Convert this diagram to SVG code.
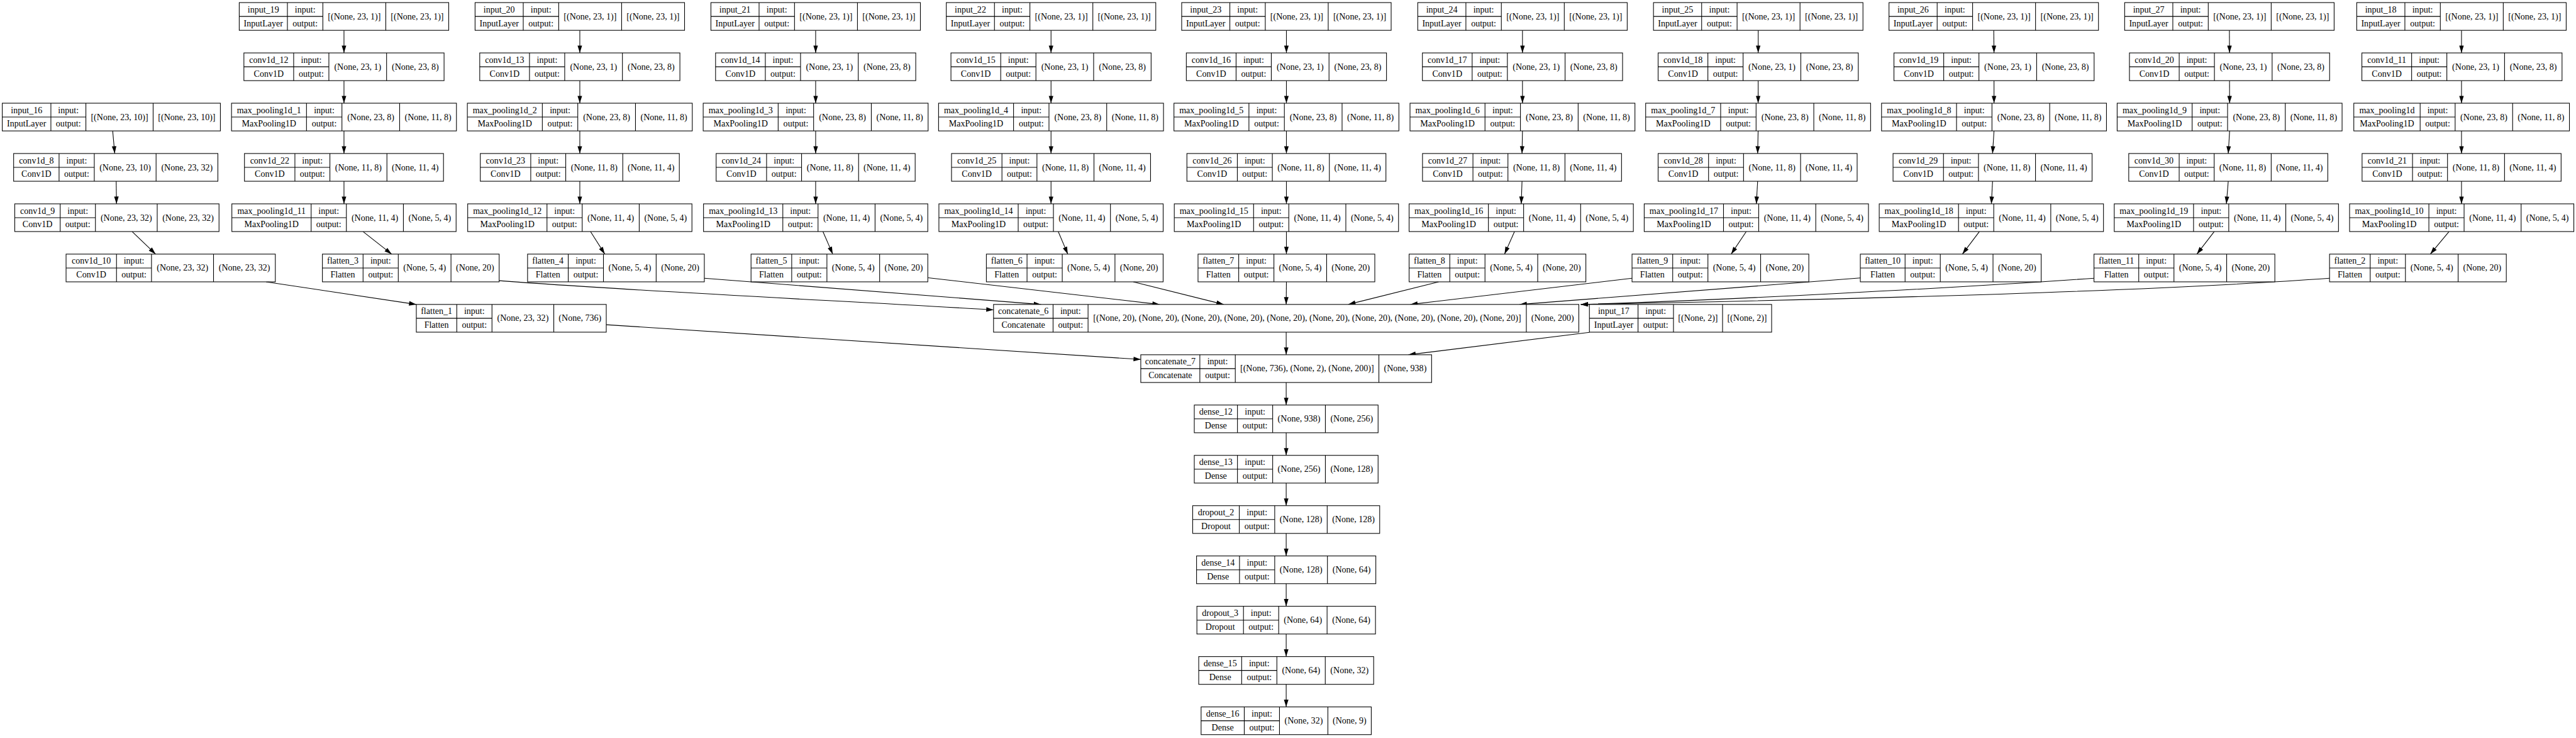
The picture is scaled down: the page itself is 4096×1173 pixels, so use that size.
<svg xmlns="http://www.w3.org/2000/svg" width="4096" height="1173" viewBox="0 0 4096 1173">
<style>
.fr rect{fill:#fff;stroke:#000;stroke-width:1.5}
.fr path{fill:none;stroke:#000;stroke-width:1.5}
text{font-family:"Liberation Serif","Times New Roman",serif;font-size:19.44px;text-anchor:middle;fill:#000}
#edges path{fill:none;stroke:#000;stroke-width:1.5;marker-end:url(#ah)}
</style>
<defs>
<marker id="ah" markerUnits="userSpaceOnUse" markerWidth="17" markerHeight="11" refX="16" refY="5" orient="auto" overflow="visible"><path d="M0,0 L16,5 L0,10 z" fill="#000"/></marker>
<g id="fIN23" class="fr"><rect width="461" height="61"/><path d="M106,0V61M184,0V61M322.5,0V61M0,30.5H184"/></g>
<g id="fIN16" class="fr"><rect width="480" height="61"/><path d="M107,0V61M184,0V61M332,0V61M0,30.5H184"/></g>
<g id="fC1" class="fr"><rect width="440.5" height="61"/><path d="M109.5,0V61M187,0V61M314,0V61M0,30.5H187"/></g>
<g id="fMP1" class="fr"><rect width="495" height="61"/><path d="M165,0V61M243,0V61M370,0V61M0,30.5H243"/></g>
<g id="fMP0" class="fr"><rect width="474.5" height="61"/><path d="M146,0V61M223,0V61M349.5,0V61M0,30.5H223"/></g>
<g id="fC2" class="fr"><rect width="438" height="61"/><path d="M111,0V61M188,0V61M313.5,0V61M0,30.5H188"/></g>
<g id="fMP2" class="fr"><rect width="493.5" height="61"/><path d="M174.5,0V61M252,0V61M377.5,0V61M0,30.5H252"/></g>
<g id="fFL" class="fr"><rect width="389" height="61"/><path d="M89.5,0V61M167,0V61M283,0V61M0,30.5H167"/></g>
<g id="fFL2" class="fr"><rect width="398" height="61"/><path d="M98.5,0V61M176,0V61M292,0V61M0,30.5H176"/></g>
<g id="fC8" class="fr"><rect width="449.5" height="61"/><path d="M100,0V61M177.5,0V61M313.5,0V61M0,30.5H177.5"/></g>
<g id="fC10" class="fr"><rect width="460.5" height="61"/><path d="M111,0V61M188,0V61M324.5,0V61M0,30.5H188"/></g>
<g id="fF1" class="fr"><rect width="418" height="61"/><path d="M89,0V61M166.5,0V61M302.5,0V61M0,30.5H166.5"/></g>
<g id="fCAT6" class="fr"><rect width="1288" height="61"/><path d="M131,0V61M208,0V61M1172.5,0V61M0,30.5H208"/></g>
<g id="fIN17" class="fr"><rect width="401" height="61"/><path d="M107,0V61M185,0V61M293,0V61M0,30.5H185"/></g>
<g id="fCAT7" class="fr"><rect width="640" height="61"/><path d="M130,0V61M208,0V61M524,0V61M0,30.5H208"/></g>
<g id="fD12" class="fr"><rect width="404.5" height="61"/><path d="M95,0V61M172.5,0V61M288.5,0V61M0,30.5H172.5"/></g>
<g id="fDO2" class="fr"><rect width="411.5" height="61"/><path d="M102.5,0V61M180.5,0V61M296,0V61M0,30.5H180.5"/></g>
<g id="fD14" class="fr"><rect width="394.5" height="61"/><path d="M94.5,0V61M172,0V61M288,0V61M0,30.5H172"/></g>
<g id="fDO3" class="fr"><rect width="393" height="61"/><path d="M102.5,0V61M180,0V61M286.5,0V61M0,30.5H180"/></g>
<g id="fD15" class="fr"><rect width="385" height="61"/><path d="M94.5,0V61M172,0V61M278.5,0V61M0,30.5H172"/></g>
<g id="fD16" class="fr"><rect width="374.5" height="61"/><path d="M95,0V61M172.5,0V61M279,0V61M0,30.5H172.5"/></g>
</defs>
<rect width="4096" height="1173" fill="#fff"/>
<g transform="scale(0.72253)">
<g id="edges">
<path d="M757,66.7 L757,116.4"/><path d="M757,177.4 L757,227"/><path d="M757,288 L757,337.7"/><path d="M757,398.7 L757,448.4"/>
<path d="M1276,66.7 L1276,116.4"/><path d="M1276,177.4 L1276,227"/><path d="M1276,288 L1276,337.7"/><path d="M1276,398.7 L1276,448.4"/>
<path d="M1795,66.7 L1795,116.4"/><path d="M1795,177.4 L1795,227"/><path d="M1795,288 L1795,337.7"/><path d="M1795,398.7 L1795,448.4"/>
<path d="M2313,66.7 L2313,116.4"/><path d="M2313,177.4 L2313,227"/><path d="M2313,288 L2313,337.7"/><path d="M2313,398.7 L2313,448.4"/>
<path d="M2831,66.7 L2831,116.4"/><path d="M2831,177.4 L2831,227"/><path d="M2831,288 L2831,337.7"/><path d="M2831,398.7 L2831,448.4"/>
<path d="M3350.5,66.7 L3350.5,116.4"/><path d="M3350.5,177.4 L3350.5,227"/><path d="M3350.5,288 L3349.5,337.7"/><path d="M3349.5,398.7 L3347.8,448.4"/>
<path d="M3869.3,66.7 L3869.2,116.4"/><path d="M3869.2,177.4 L3869.1,227"/><path d="M3869.1,288 L3868,337.7"/><path d="M3868,398.7 L3865.2,448.4"/>
<path d="M4387.6,66.7 L4388.2,116.4"/><path d="M4388.2,177.4 L4388.2,227"/><path d="M4388.2,288 L4385,337.7"/><path d="M4385,398.7 L4382.4,448.4"/>
<path d="M4906.2,66.7 L4906.5,116.4"/><path d="M4906.5,177.4 L4906.7,227"/><path d="M4906.7,288 L4903.7,337.7"/><path d="M4903.7,398.7 L4899.6,448.4"/>
<path d="M5417,66.7 L5417,116.4"/><path d="M5417,177.4 L5417,227"/><path d="M5417,288 L5417,337.7"/><path d="M5417,398.7 L5417,448.4"/>
<path d="M799,509.4 L862,559"/>
<path d="M1299.5,509.4 L1331,559"/>
<path d="M1811,509.4 L1832.6,559"/>
<path d="M2328.8,509.4 L2349.9,559"/>
<path d="M2831,509.4 L2831,559"/>
<path d="M3333,509.4 L3311,559"/>
<path d="M3843,509.4 L3809.7,559"/>
<path d="M4356,509.4 L4318.6,559"/>
<path d="M4872.8,509.4 L4834.6,559"/>
<path d="M5389.5,509.4 L5348.3,559"/>
<path d="M248,288 L252.5,337.7"/>
<path d="M255.7,398.7 L256.4,448.4"/>
<path d="M290.8,509.4 L342.5,559"/>
<path d="M585.5,620 L916.2,669.7"/>
<path d="M1098.6,617.5 C1400,641 1900,664 2186.5,681.7"/>
<path d="M1550,612 L2291,669.7"/>
<path d="M2042.5,611 L2552,669.7"/>
<path d="M2494,620 L2693,669.7"/>
<path d="M2831,620 L2830.5,669.7"/>
<path d="M3166,620 L2967,669.7"/>
<path d="M3591.6,612 L3103.6,669.7"/>
<path d="M4094,611.5 L3344,669.7"/>
<path d="M4608.2,612 C4300,633.6 3800,660 3478.8,669.7"/>
<path d="M5126.6,612.2 C4700,643 4000,660 3478.8,669.7"/>
<path d="M2830.5,730.7 L2830.5,780.4"/>
<path d="M3497.8,731 L3099.4,780.4"/>
<path d="M1334.1,714.3 L2510.5,790.7"/>
<path d="M2830.5,841.4 L2830.5,891"/>
<path d="M2830.5,952 L2830.5,1001.7"/>
<path d="M2830.5,1062.7 L2830.5,1112.4"/>
<path d="M2830.5,1173.4 L2830.5,1223"/>
<path d="M2830.5,1284 L2830.5,1333.7"/>
<path d="M2830.5,1394.7 L2830.5,1444.4"/>
<path d="M2830.5,1505.4 L2830.5,1555.1"/>
</g>

<g id="input_19" transform="translate(526.5,5.7)"><use href="#fIN23"/><text x="53" y="21.5">input_19</text><text x="53" y="51.8">InputLayer</text><text x="145" y="21.5">input:</text><text x="145" y="51.8">output:</text><text x="253.25" y="36.8">[(None, 23, 1)]</text><text x="391.75" y="36.8">[(None, 23, 1)]</text></g>
<g id="input_20" transform="translate(1045.5,5.7)"><use href="#fIN23"/><text x="53" y="21.5">input_20</text><text x="53" y="51.8">InputLayer</text><text x="145" y="21.5">input:</text><text x="145" y="51.8">output:</text><text x="253.25" y="36.8">[(None, 23, 1)]</text><text x="391.75" y="36.8">[(None, 23, 1)]</text></g>
<g id="input_21" transform="translate(1564.5,5.7)"><use href="#fIN23"/><text x="53" y="21.5">input_21</text><text x="53" y="51.8">InputLayer</text><text x="145" y="21.5">input:</text><text x="145" y="51.8">output:</text><text x="253.25" y="36.8">[(None, 23, 1)]</text><text x="391.75" y="36.8">[(None, 23, 1)]</text></g>
<g id="input_22" transform="translate(2082.5,5.7)"><use href="#fIN23"/><text x="53" y="21.5">input_22</text><text x="53" y="51.8">InputLayer</text><text x="145" y="21.5">input:</text><text x="145" y="51.8">output:</text><text x="253.25" y="36.8">[(None, 23, 1)]</text><text x="391.75" y="36.8">[(None, 23, 1)]</text></g>
<g id="input_23" transform="translate(2600.5,5.7)"><use href="#fIN23"/><text x="53" y="21.5">input_23</text><text x="53" y="51.8">InputLayer</text><text x="145" y="21.5">input:</text><text x="145" y="51.8">output:</text><text x="253.25" y="36.8">[(None, 23, 1)]</text><text x="391.75" y="36.8">[(None, 23, 1)]</text></g>
<g id="input_24" transform="translate(3120,5.7)"><use href="#fIN23"/><text x="53" y="21.5">input_24</text><text x="53" y="51.8">InputLayer</text><text x="145" y="21.5">input:</text><text x="145" y="51.8">output:</text><text x="253.25" y="36.8">[(None, 23, 1)]</text><text x="391.75" y="36.8">[(None, 23, 1)]</text></g>
<g id="input_25" transform="translate(3638.8,5.7)"><use href="#fIN23"/><text x="53" y="21.5">input_25</text><text x="53" y="51.8">InputLayer</text><text x="145" y="21.5">input:</text><text x="145" y="51.8">output:</text><text x="253.25" y="36.8">[(None, 23, 1)]</text><text x="391.75" y="36.8">[(None, 23, 1)]</text></g>
<g id="input_26" transform="translate(4157.1,5.7)"><use href="#fIN23"/><text x="53" y="21.5">input_26</text><text x="53" y="51.8">InputLayer</text><text x="145" y="21.5">input:</text><text x="145" y="51.8">output:</text><text x="253.25" y="36.8">[(None, 23, 1)]</text><text x="391.75" y="36.8">[(None, 23, 1)]</text></g>
<g id="input_27" transform="translate(4675.7,5.7)"><use href="#fIN23"/><text x="53" y="21.5">input_27</text><text x="53" y="51.8">InputLayer</text><text x="145" y="21.5">input:</text><text x="145" y="51.8">output:</text><text x="253.25" y="36.8">[(None, 23, 1)]</text><text x="391.75" y="36.8">[(None, 23, 1)]</text></g>
<g id="input_18" transform="translate(5186.4,5.7)"><use href="#fIN23"/><text x="53" y="21.5">input_18</text><text x="53" y="51.8">InputLayer</text><text x="145" y="21.5">input:</text><text x="145" y="51.8">output:</text><text x="253.25" y="36.8">[(None, 23, 1)]</text><text x="391.75" y="36.8">[(None, 23, 1)]</text></g>

<g id="conv1d_12" transform="translate(536.75,116.4)"><use href="#fC1"/><text x="54.75" y="21.5">conv1d_12</text><text x="54.75" y="51.8">Conv1D</text><text x="148.25" y="21.5">input:</text><text x="148.25" y="51.8">output:</text><text x="250.5" y="36.8">(None, 23, 1)</text><text x="377.25" y="36.8">(None, 23, 8)</text></g>
<g id="conv1d_13" transform="translate(1055.75,116.4)"><use href="#fC1"/><text x="54.75" y="21.5">conv1d_13</text><text x="54.75" y="51.8">Conv1D</text><text x="148.25" y="21.5">input:</text><text x="148.25" y="51.8">output:</text><text x="250.5" y="36.8">(None, 23, 1)</text><text x="377.25" y="36.8">(None, 23, 8)</text></g>
<g id="conv1d_14" transform="translate(1574.75,116.4)"><use href="#fC1"/><text x="54.75" y="21.5">conv1d_14</text><text x="54.75" y="51.8">Conv1D</text><text x="148.25" y="21.5">input:</text><text x="148.25" y="51.8">output:</text><text x="250.5" y="36.8">(None, 23, 1)</text><text x="377.25" y="36.8">(None, 23, 8)</text></g>
<g id="conv1d_15" transform="translate(2092.75,116.4)"><use href="#fC1"/><text x="54.75" y="21.5">conv1d_15</text><text x="54.75" y="51.8">Conv1D</text><text x="148.25" y="21.5">input:</text><text x="148.25" y="51.8">output:</text><text x="250.5" y="36.8">(None, 23, 1)</text><text x="377.25" y="36.8">(None, 23, 8)</text></g>
<g id="conv1d_16" transform="translate(2610.75,116.4)"><use href="#fC1"/><text x="54.75" y="21.5">conv1d_16</text><text x="54.75" y="51.8">Conv1D</text><text x="148.25" y="21.5">input:</text><text x="148.25" y="51.8">output:</text><text x="250.5" y="36.8">(None, 23, 1)</text><text x="377.25" y="36.8">(None, 23, 8)</text></g>
<g id="conv1d_17" transform="translate(3130.25,116.4)"><use href="#fC1"/><text x="54.75" y="21.5">conv1d_17</text><text x="54.75" y="51.8">Conv1D</text><text x="148.25" y="21.5">input:</text><text x="148.25" y="51.8">output:</text><text x="250.5" y="36.8">(None, 23, 1)</text><text x="377.25" y="36.8">(None, 23, 8)</text></g>
<g id="conv1d_18" transform="translate(3649,116.4)"><use href="#fC1"/><text x="54.75" y="21.5">conv1d_18</text><text x="54.75" y="51.8">Conv1D</text><text x="148.25" y="21.5">input:</text><text x="148.25" y="51.8">output:</text><text x="250.5" y="36.8">(None, 23, 1)</text><text x="377.25" y="36.8">(None, 23, 8)</text></g>
<g id="conv1d_19" transform="translate(4168,116.4)"><use href="#fC1"/><text x="54.75" y="21.5">conv1d_19</text><text x="54.75" y="51.8">Conv1D</text><text x="148.25" y="21.5">input:</text><text x="148.25" y="51.8">output:</text><text x="250.5" y="36.8">(None, 23, 1)</text><text x="377.25" y="36.8">(None, 23, 8)</text></g>
<g id="conv1d_20" transform="translate(4686.25,116.4)"><use href="#fC1"/><text x="54.75" y="21.5">conv1d_20</text><text x="54.75" y="51.8">Conv1D</text><text x="148.25" y="21.5">input:</text><text x="148.25" y="51.8">output:</text><text x="250.5" y="36.8">(None, 23, 1)</text><text x="377.25" y="36.8">(None, 23, 8)</text></g>
<g id="conv1d_11" transform="translate(5197.75,116.4)"><use href="#fC1"/><text x="54.75" y="21.5">conv1d_11</text><text x="54.75" y="51.8">Conv1D</text><text x="148.25" y="21.5">input:</text><text x="148.25" y="51.8">output:</text><text x="250.5" y="36.8">(None, 23, 1)</text><text x="377.25" y="36.8">(None, 23, 8)</text></g>

<g id="input_16" transform="translate(5,227)"><use href="#fIN16"/><text x="53.5" y="21.5">input_16</text><text x="53.5" y="51.8">InputLayer</text><text x="145.5" y="21.5">input:</text><text x="145.5" y="51.8">output:</text><text x="258" y="36.8">[(None, 23, 10)]</text><text x="406" y="36.8">[(None, 23, 10)]</text></g>
<g id="max_pooling1d_1" transform="translate(509.5,227)"><use href="#fMP1"/><text x="82.5" y="21.5">max_pooling1d_1</text><text x="82.5" y="51.8">MaxPooling1D</text><text x="204" y="21.5">input:</text><text x="204" y="51.8">output:</text><text x="306.5" y="36.8">(None, 23, 8)</text><text x="432.5" y="36.8">(None, 11, 8)</text></g>
<g id="max_pooling1d_2" transform="translate(1028.5,227)"><use href="#fMP1"/><text x="82.5" y="21.5">max_pooling1d_2</text><text x="82.5" y="51.8">MaxPooling1D</text><text x="204" y="21.5">input:</text><text x="204" y="51.8">output:</text><text x="306.5" y="36.8">(None, 23, 8)</text><text x="432.5" y="36.8">(None, 11, 8)</text></g>
<g id="max_pooling1d_3" transform="translate(1547.5,227)"><use href="#fMP1"/><text x="82.5" y="21.5">max_pooling1d_3</text><text x="82.5" y="51.8">MaxPooling1D</text><text x="204" y="21.5">input:</text><text x="204" y="51.8">output:</text><text x="306.5" y="36.8">(None, 23, 8)</text><text x="432.5" y="36.8">(None, 11, 8)</text></g>
<g id="max_pooling1d_4" transform="translate(2065.5,227)"><use href="#fMP1"/><text x="82.5" y="21.5">max_pooling1d_4</text><text x="82.5" y="51.8">MaxPooling1D</text><text x="204" y="21.5">input:</text><text x="204" y="51.8">output:</text><text x="306.5" y="36.8">(None, 23, 8)</text><text x="432.5" y="36.8">(None, 11, 8)</text></g>
<g id="max_pooling1d_5" transform="translate(2583.5,227)"><use href="#fMP1"/><text x="82.5" y="21.5">max_pooling1d_5</text><text x="82.5" y="51.8">MaxPooling1D</text><text x="204" y="21.5">input:</text><text x="204" y="51.8">output:</text><text x="306.5" y="36.8">(None, 23, 8)</text><text x="432.5" y="36.8">(None, 11, 8)</text></g>
<g id="max_pooling1d_6" transform="translate(3103,227)"><use href="#fMP1"/><text x="82.5" y="21.5">max_pooling1d_6</text><text x="82.5" y="51.8">MaxPooling1D</text><text x="204" y="21.5">input:</text><text x="204" y="51.8">output:</text><text x="306.5" y="36.8">(None, 23, 8)</text><text x="432.5" y="36.8">(None, 11, 8)</text></g>
<g id="max_pooling1d_7" transform="translate(3621.6,227)"><use href="#fMP1"/><text x="82.5" y="21.5">max_pooling1d_7</text><text x="82.5" y="51.8">MaxPooling1D</text><text x="204" y="21.5">input:</text><text x="204" y="51.8">output:</text><text x="306.5" y="36.8">(None, 23, 8)</text><text x="432.5" y="36.8">(None, 11, 8)</text></g>
<g id="max_pooling1d_8" transform="translate(4140.7,227)"><use href="#fMP1"/><text x="82.5" y="21.5">max_pooling1d_8</text><text x="82.5" y="51.8">MaxPooling1D</text><text x="204" y="21.5">input:</text><text x="204" y="51.8">output:</text><text x="306.5" y="36.8">(None, 23, 8)</text><text x="432.5" y="36.8">(None, 11, 8)</text></g>
<g id="max_pooling1d_9" transform="translate(4659.2,227)"><use href="#fMP1"/><text x="82.5" y="21.5">max_pooling1d_9</text><text x="82.5" y="51.8">MaxPooling1D</text><text x="204" y="21.5">input:</text><text x="204" y="51.8">output:</text><text x="306.5" y="36.8">(None, 23, 8)</text><text x="432.5" y="36.8">(None, 11, 8)</text></g>
<g id="max_pooling1d" transform="translate(5180,227)"><use href="#fMP0"/><text x="73" y="21.5">max_pooling1d</text><text x="73" y="51.8">MaxPooling1D</text><text x="184.5" y="21.5">input:</text><text x="184.5" y="51.8">output:</text><text x="286.25" y="36.8">(None, 23, 8)</text><text x="412" y="36.8">(None, 11, 8)</text></g>

<g id="conv1d_8" transform="translate(30,337.7)"><use href="#fC8"/><text x="50" y="21.5">conv1d_8</text><text x="50" y="51.8">Conv1D</text><text x="138.75" y="21.5">input:</text><text x="138.75" y="51.8">output:</text><text x="245.5" y="36.8">(None, 23, 10)</text><text x="381.5" y="36.8">(None, 23, 32)</text></g>
<g id="conv1d_22" transform="translate(538,337.7)"><use href="#fC2"/><text x="55.5" y="21.5">conv1d_22</text><text x="55.5" y="51.8">Conv1D</text><text x="149.5" y="21.5">input:</text><text x="149.5" y="51.8">output:</text><text x="250.75" y="36.8">(None, 11, 8)</text><text x="375.75" y="36.8">(None, 11, 4)</text></g>
<g id="conv1d_23" transform="translate(1057,337.7)"><use href="#fC2"/><text x="55.5" y="21.5">conv1d_23</text><text x="55.5" y="51.8">Conv1D</text><text x="149.5" y="21.5">input:</text><text x="149.5" y="51.8">output:</text><text x="250.75" y="36.8">(None, 11, 8)</text><text x="375.75" y="36.8">(None, 11, 4)</text></g>
<g id="conv1d_24" transform="translate(1576,337.7)"><use href="#fC2"/><text x="55.5" y="21.5">conv1d_24</text><text x="55.5" y="51.8">Conv1D</text><text x="149.5" y="21.5">input:</text><text x="149.5" y="51.8">output:</text><text x="250.75" y="36.8">(None, 11, 8)</text><text x="375.75" y="36.8">(None, 11, 4)</text></g>
<g id="conv1d_25" transform="translate(2094,337.7)"><use href="#fC2"/><text x="55.5" y="21.5">conv1d_25</text><text x="55.5" y="51.8">Conv1D</text><text x="149.5" y="21.5">input:</text><text x="149.5" y="51.8">output:</text><text x="250.75" y="36.8">(None, 11, 8)</text><text x="375.75" y="36.8">(None, 11, 4)</text></g>
<g id="conv1d_26" transform="translate(2612,337.7)"><use href="#fC2"/><text x="55.5" y="21.5">conv1d_26</text><text x="55.5" y="51.8">Conv1D</text><text x="149.5" y="21.5">input:</text><text x="149.5" y="51.8">output:</text><text x="250.75" y="36.8">(None, 11, 8)</text><text x="375.75" y="36.8">(None, 11, 4)</text></g>
<g id="conv1d_27" transform="translate(3130.5,337.7)"><use href="#fC2"/><text x="55.5" y="21.5">conv1d_27</text><text x="55.5" y="51.8">Conv1D</text><text x="149.5" y="21.5">input:</text><text x="149.5" y="51.8">output:</text><text x="250.75" y="36.8">(None, 11, 8)</text><text x="375.75" y="36.8">(None, 11, 4)</text></g>
<g id="conv1d_28" transform="translate(3649,337.7)"><use href="#fC2"/><text x="55.5" y="21.5">conv1d_28</text><text x="55.5" y="51.8">Conv1D</text><text x="149.5" y="21.5">input:</text><text x="149.5" y="51.8">output:</text><text x="250.75" y="36.8">(None, 11, 8)</text><text x="375.75" y="36.8">(None, 11, 4)</text></g>
<g id="conv1d_29" transform="translate(4166,337.7)"><use href="#fC2"/><text x="55.5" y="21.5">conv1d_29</text><text x="55.5" y="51.8">Conv1D</text><text x="149.5" y="21.5">input:</text><text x="149.5" y="51.8">output:</text><text x="250.75" y="36.8">(None, 11, 8)</text><text x="375.75" y="36.8">(None, 11, 4)</text></g>
<g id="conv1d_30" transform="translate(4684.7,337.7)"><use href="#fC2"/><text x="55.5" y="21.5">conv1d_30</text><text x="55.5" y="51.8">Conv1D</text><text x="149.5" y="21.5">input:</text><text x="149.5" y="51.8">output:</text><text x="250.75" y="36.8">(None, 11, 8)</text><text x="375.75" y="36.8">(None, 11, 4)</text></g>
<g id="conv1d_21" transform="translate(5198.2,337.7)"><use href="#fC2"/><text x="55.5" y="21.5">conv1d_21</text><text x="55.5" y="51.8">Conv1D</text><text x="149.5" y="21.5">input:</text><text x="149.5" y="51.8">output:</text><text x="250.75" y="36.8">(None, 11, 8)</text><text x="375.75" y="36.8">(None, 11, 4)</text></g>

<g id="conv1d_9" transform="translate(32.5,448.4)"><use href="#fC8"/><text x="50" y="21.5">conv1d_9</text><text x="50" y="51.8">Conv1D</text><text x="138.75" y="21.5">input:</text><text x="138.75" y="51.8">output:</text><text x="245.5" y="36.8">(None, 23, 32)</text><text x="381.5" y="36.8">(None, 23, 32)</text></g>
<g id="max_pooling1d_11" transform="translate(510.25,448.4)"><use href="#fMP2"/><text x="87.25" y="21.5">max_pooling1d_11</text><text x="87.25" y="51.8">MaxPooling1D</text><text x="213.25" y="21.5">input:</text><text x="213.25" y="51.8">output:</text><text x="314.75" y="36.8">(None, 11, 4)</text><text x="435.5" y="36.8">(None, 5, 4)</text></g>
<g id="max_pooling1d_12" transform="translate(1029.25,448.4)"><use href="#fMP2"/><text x="87.25" y="21.5">max_pooling1d_12</text><text x="87.25" y="51.8">MaxPooling1D</text><text x="213.25" y="21.5">input:</text><text x="213.25" y="51.8">output:</text><text x="314.75" y="36.8">(None, 11, 4)</text><text x="435.5" y="36.8">(None, 5, 4)</text></g>
<g id="max_pooling1d_13" transform="translate(1548.25,448.4)"><use href="#fMP2"/><text x="87.25" y="21.5">max_pooling1d_13</text><text x="87.25" y="51.8">MaxPooling1D</text><text x="213.25" y="21.5">input:</text><text x="213.25" y="51.8">output:</text><text x="314.75" y="36.8">(None, 11, 4)</text><text x="435.5" y="36.8">(None, 5, 4)</text></g>
<g id="max_pooling1d_14" transform="translate(2066.25,448.4)"><use href="#fMP2"/><text x="87.25" y="21.5">max_pooling1d_14</text><text x="87.25" y="51.8">MaxPooling1D</text><text x="213.25" y="21.5">input:</text><text x="213.25" y="51.8">output:</text><text x="314.75" y="36.8">(None, 11, 4)</text><text x="435.5" y="36.8">(None, 5, 4)</text></g>
<g id="max_pooling1d_15" transform="translate(2584.25,448.4)"><use href="#fMP2"/><text x="87.25" y="21.5">max_pooling1d_15</text><text x="87.25" y="51.8">MaxPooling1D</text><text x="213.25" y="21.5">input:</text><text x="213.25" y="51.8">output:</text><text x="314.75" y="36.8">(None, 11, 4)</text><text x="435.5" y="36.8">(None, 5, 4)</text></g>
<g id="max_pooling1d_16" transform="translate(3101,448.4)"><use href="#fMP2"/><text x="87.25" y="21.5">max_pooling1d_16</text><text x="87.25" y="51.8">MaxPooling1D</text><text x="213.25" y="21.5">input:</text><text x="213.25" y="51.8">output:</text><text x="314.75" y="36.8">(None, 11, 4)</text><text x="435.5" y="36.8">(None, 5, 4)</text></g>
<g id="max_pooling1d_17" transform="translate(3618.4,448.4)"><use href="#fMP2"/><text x="87.25" y="21.5">max_pooling1d_17</text><text x="87.25" y="51.8">MaxPooling1D</text><text x="213.25" y="21.5">input:</text><text x="213.25" y="51.8">output:</text><text x="314.75" y="36.8">(None, 11, 4)</text><text x="435.5" y="36.8">(None, 5, 4)</text></g>
<g id="max_pooling1d_18" transform="translate(4135.6,448.4)"><use href="#fMP2"/><text x="87.25" y="21.5">max_pooling1d_18</text><text x="87.25" y="51.8">MaxPooling1D</text><text x="213.25" y="21.5">input:</text><text x="213.25" y="51.8">output:</text><text x="314.75" y="36.8">(None, 11, 4)</text><text x="435.5" y="36.8">(None, 5, 4)</text></g>
<g id="max_pooling1d_19" transform="translate(4652.8,448.4)"><use href="#fMP2"/><text x="87.25" y="21.5">max_pooling1d_19</text><text x="87.25" y="51.8">MaxPooling1D</text><text x="213.25" y="21.5">input:</text><text x="213.25" y="51.8">output:</text><text x="314.75" y="36.8">(None, 11, 4)</text><text x="435.5" y="36.8">(None, 5, 4)</text></g>
<g id="max_pooling1d_10" transform="translate(5170.7,448.4)"><use href="#fMP2"/><text x="87.25" y="21.5">max_pooling1d_10</text><text x="87.25" y="51.8">MaxPooling1D</text><text x="213.25" y="21.5">input:</text><text x="213.25" y="51.8">output:</text><text x="314.75" y="36.8">(None, 11, 4)</text><text x="435.5" y="36.8">(None, 5, 4)</text></g>

<g id="conv1d_10" transform="translate(145.4,559)"><use href="#fC10"/><text x="55.5" y="21.5">conv1d_10</text><text x="55.5" y="51.8">Conv1D</text><text x="149.5" y="21.5">input:</text><text x="149.5" y="51.8">output:</text><text x="256.25" y="36.8">(None, 23, 32)</text><text x="392.5" y="36.8">(None, 23, 32)</text></g>
<g id="flatten_3" transform="translate(709.5,559)"><use href="#fFL"/><text x="44.75" y="21.5">flatten_3</text><text x="44.75" y="51.8">Flatten</text><text x="128.25" y="21.5">input:</text><text x="128.25" y="51.8">output:</text><text x="225" y="36.8">(None, 5, 4)</text><text x="336" y="36.8">(None, 20)</text></g>
<g id="flatten_4" transform="translate(1161,559)"><use href="#fFL"/><text x="44.75" y="21.5">flatten_4</text><text x="44.75" y="51.8">Flatten</text><text x="128.25" y="21.5">input:</text><text x="128.25" y="51.8">output:</text><text x="225" y="36.8">(None, 5, 4)</text><text x="336" y="36.8">(None, 20)</text></g>
<g id="flatten_5" transform="translate(1652.8,559)"><use href="#fFL"/><text x="44.75" y="21.5">flatten_5</text><text x="44.75" y="51.8">Flatten</text><text x="128.25" y="21.5">input:</text><text x="128.25" y="51.8">output:</text><text x="225" y="36.8">(None, 5, 4)</text><text x="336" y="36.8">(None, 20)</text></g>
<g id="flatten_6" transform="translate(2170.7,559)"><use href="#fFL"/><text x="44.75" y="21.5">flatten_6</text><text x="44.75" y="51.8">Flatten</text><text x="128.25" y="21.5">input:</text><text x="128.25" y="51.8">output:</text><text x="225" y="36.8">(None, 5, 4)</text><text x="336" y="36.8">(None, 20)</text></g>
<g id="flatten_7" transform="translate(2636.5,559)"><use href="#fFL"/><text x="44.75" y="21.5">flatten_7</text><text x="44.75" y="51.8">Flatten</text><text x="128.25" y="21.5">input:</text><text x="128.25" y="51.8">output:</text><text x="225" y="36.8">(None, 5, 4)</text><text x="336" y="36.8">(None, 20)</text></g>
<g id="flatten_8" transform="translate(3101,559)"><use href="#fFL"/><text x="44.75" y="21.5">flatten_8</text><text x="44.75" y="51.8">Flatten</text><text x="128.25" y="21.5">input:</text><text x="128.25" y="51.8">output:</text><text x="225" y="36.8">(None, 5, 4)</text><text x="336" y="36.8">(None, 20)</text></g>
<g id="flatten_9" transform="translate(3591.6,559)"><use href="#fFL"/><text x="44.75" y="21.5">flatten_9</text><text x="44.75" y="51.8">Flatten</text><text x="128.25" y="21.5">input:</text><text x="128.25" y="51.8">output:</text><text x="225" y="36.8">(None, 5, 4)</text><text x="336" y="36.8">(None, 20)</text></g>
<g id="flatten_10" transform="translate(4094,559)"><use href="#fFL2"/><text x="49.25" y="21.5">flatten_10</text><text x="49.25" y="51.8">Flatten</text><text x="137.25" y="21.5">input:</text><text x="137.25" y="51.8">output:</text><text x="234" y="36.8">(None, 5, 4)</text><text x="345" y="36.8">(None, 20)</text></g>
<g id="flatten_11" transform="translate(4608.2,559)"><use href="#fFL2"/><text x="49.25" y="21.5">flatten_11</text><text x="49.25" y="51.8">Flatten</text><text x="137.25" y="21.5">input:</text><text x="137.25" y="51.8">output:</text><text x="234" y="36.8">(None, 5, 4)</text><text x="345" y="36.8">(None, 20)</text></g>
<g id="flatten_2" transform="translate(5126.6,559)"><use href="#fFL"/><text x="44.75" y="21.5">flatten_2</text><text x="44.75" y="51.8">Flatten</text><text x="128.25" y="21.5">input:</text><text x="128.25" y="51.8">output:</text><text x="225" y="36.8">(None, 5, 4)</text><text x="336" y="36.8">(None, 20)</text></g>

<g id="flatten_1" transform="translate(916.2,669.7)"><use href="#fF1"/><text x="44.5" y="21.5">flatten_1</text><text x="44.5" y="51.8">Flatten</text><text x="127.75" y="21.5">input:</text><text x="127.75" y="51.8">output:</text><text x="234.5" y="36.8">(None, 23, 32)</text><text x="360.25" y="36.8">(None, 736)</text></g>
<g id="concatenate_6" transform="translate(2186.5,669.7)"><use href="#fCAT6"/><text x="65.5" y="21.5">concatenate_6</text><text x="65.5" y="51.8">Concatenate</text><text x="169.5" y="21.5">input:</text><text x="169.5" y="51.8">output:</text><text x="690.25" y="36.8">[(None, 20), (None, 20), (None, 20), (None, 20), (None, 20), (None, 20), (None, 20), (None, 20), (None, 20), (None, 20)]</text><text x="1230.25" y="36.8">(None, 200)</text></g>
<g id="input_17" transform="translate(3497.8,669.7)"><use href="#fIN17"/><text x="53.5" y="21.5">input_17</text><text x="53.5" y="51.8">InputLayer</text><text x="146" y="21.5">input:</text><text x="146" y="51.8">output:</text><text x="239" y="36.8">[(None, 2)]</text><text x="347" y="36.8">[(None, 2)]</text></g>

<g id="concatenate_7" transform="translate(2510.5,780.4)"><use href="#fCAT7"/><text x="65" y="21.5">concatenate_7</text><text x="65" y="51.8">Concatenate</text><text x="169" y="21.5">input:</text><text x="169" y="51.8">output:</text><text x="366" y="36.8">[(None, 736), (None, 2), (None, 200)]</text><text x="582" y="36.8">(None, 938)</text></g>
<g id="dense_12" transform="translate(2628.25,891)"><use href="#fD12"/><text x="47.5" y="21.5">dense_12</text><text x="47.5" y="51.8">Dense</text><text x="133.75" y="21.5">input:</text><text x="133.75" y="51.8">output:</text><text x="230.5" y="36.8">(None, 938)</text><text x="346.5" y="36.8">(None, 256)</text></g>
<g id="dense_13" transform="translate(2628.25,1001.7)"><use href="#fD12"/><text x="47.5" y="21.5">dense_13</text><text x="47.5" y="51.8">Dense</text><text x="133.75" y="21.5">input:</text><text x="133.75" y="51.8">output:</text><text x="230.5" y="36.8">(None, 256)</text><text x="346.5" y="36.8">(None, 128)</text></g>
<g id="dropout_2" transform="translate(2624.75,1112.4)"><use href="#fDO2"/><text x="51.25" y="21.5">dropout_2</text><text x="51.25" y="51.8">Dropout</text><text x="141.5" y="21.5">input:</text><text x="141.5" y="51.8">output:</text><text x="238.25" y="36.8">(None, 128)</text><text x="353.75" y="36.8">(None, 128)</text></g>
<g id="dense_14" transform="translate(2633.25,1223)"><use href="#fD14"/><text x="47.25" y="21.5">dense_14</text><text x="47.25" y="51.8">Dense</text><text x="133.25" y="21.5">input:</text><text x="133.25" y="51.8">output:</text><text x="230" y="36.8">(None, 128)</text><text x="341.25" y="36.8">(None, 64)</text></g>
<g id="dropout_3" transform="translate(2634,1333.7)"><use href="#fDO3"/><text x="51.25" y="21.5">dropout_3</text><text x="51.25" y="51.8">Dropout</text><text x="141.25" y="21.5">input:</text><text x="141.25" y="51.8">output:</text><text x="233.25" y="36.8">(None, 64)</text><text x="339.75" y="36.8">(None, 64)</text></g>
<g id="dense_15" transform="translate(2638,1444.4)"><use href="#fD15"/><text x="47.25" y="21.5">dense_15</text><text x="47.25" y="51.8">Dense</text><text x="133.25" y="21.5">input:</text><text x="133.25" y="51.8">output:</text><text x="225.25" y="36.8">(None, 64)</text><text x="331.75" y="36.8">(None, 32)</text></g>
<g id="dense_16" transform="translate(2643.25,1555.1)"><use href="#fD16"/><text x="47.5" y="21.5">dense_16</text><text x="47.5" y="51.8">Dense</text><text x="133.75" y="21.5">input:</text><text x="133.75" y="51.8">output:</text><text x="225.75" y="36.8">(None, 32)</text><text x="326.75" y="36.8">(None, 9)</text></g>
</g>
</svg>
